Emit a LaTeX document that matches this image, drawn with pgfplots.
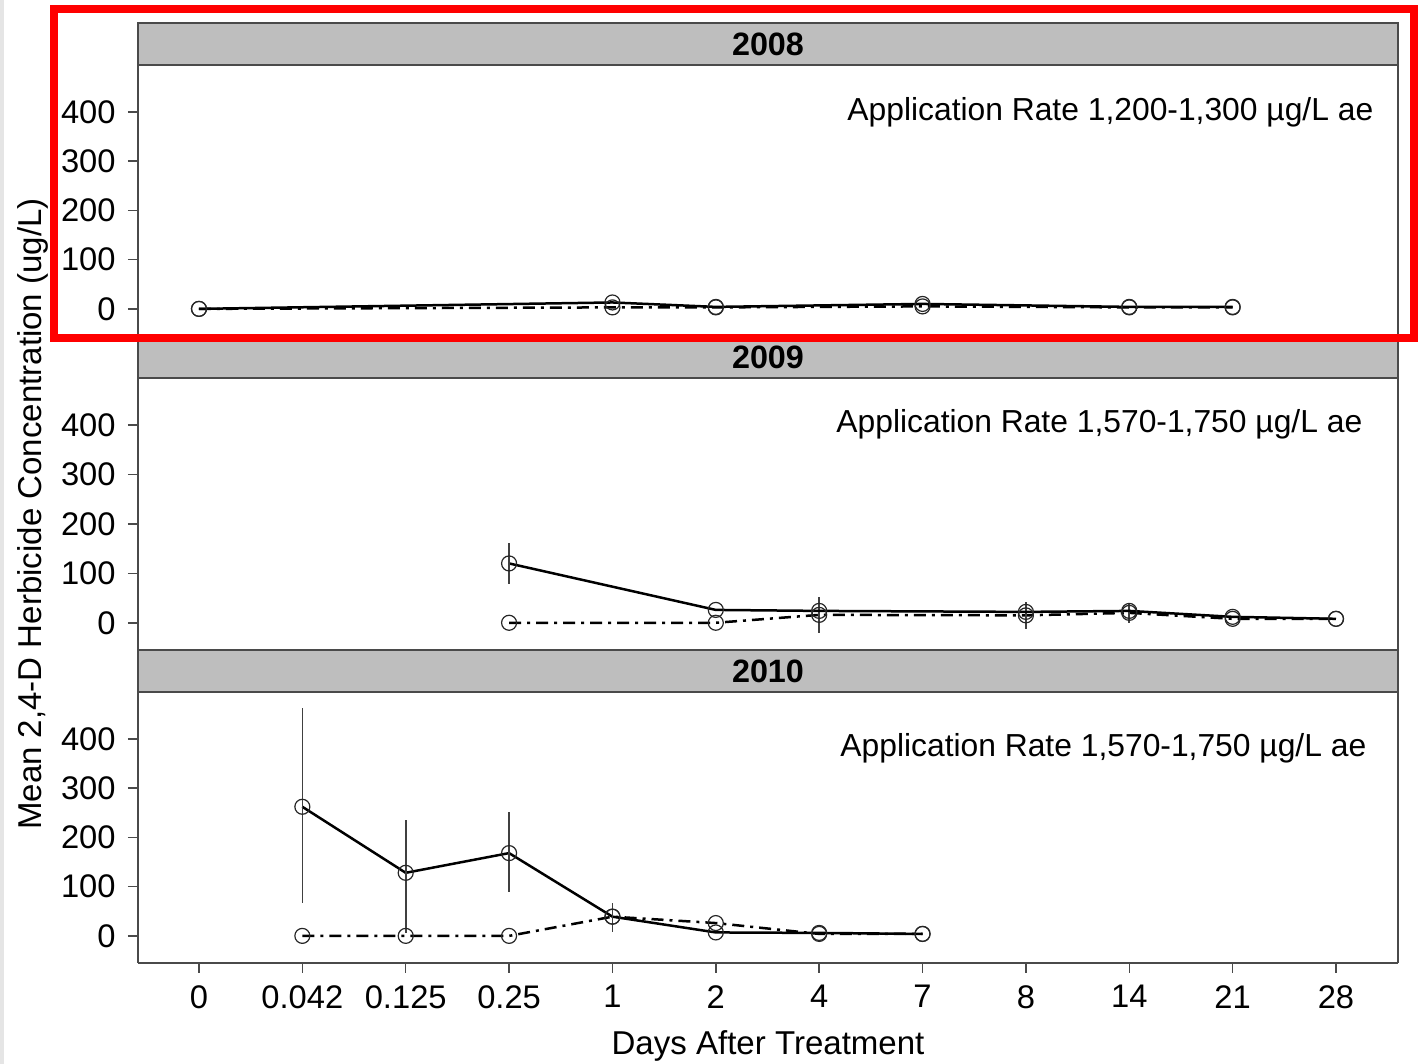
\documentclass[border=0pt]{standalone}
\usepackage{pgfplots}
\pgfplotsset{compat=1.18}
\usepackage{pgfplotstable}
\usepackage{fontspec}
\setmainfont{Liberation Sans}

\definecolor{stripgray}{HTML}{BEBEBE}
\definecolor{framegray}{HTML}{4A4A4A}

% Days after treatment are plotted at category positions 0..11
% 0:0  1:0.042  2:0.125  3:0.25  4:1  5:2  6:4  7:7  8:8  9:14  10:21  11:28

% ---- 2008 ----
\pgfplotstableread{
x y
0 0
4 13
5 4
7 10
9 4
10 4
}\solidA
\pgfplotstableread{
x y
0 0
4 3
5 3
7 5
9 3
10 3
}\dashA

% ---- 2009 ----
\pgfplotstableread{
x y ep em
3 120 42 42
5 26 0 0
6 24 0 0
8 22 0 0
9 24 0 0
10 12 0 0
11 8 0 0
}\solidB
\pgfplotstableread{
x y ep em
3 0 0 0
5 0 0 0
6 16 36 36
8 15 28 28
9 20 20 20
10 8 0 0
11 8 0 0
}\dashB

% ---- 2010 ----
\pgfplotstableread{
x y ep em
1 262 201 195
2 128 107 122
3 168 84 79
4 39 28 31
5 7 0 0
6 6 0 0
7 4 0 0
}\solidC
\pgfplotstableread{
x y
1 0
2 0
3 0
4 39
5 26
6 4
7 4
}\dashC

\pgfplotsset{
  panel/.style={
    scale only axis,
    width=126mm,
    xmin=-0.59, xmax=11.6,
    ymin=-55, ymax=495,
    ytick={0,100,200,300,400},
    tick align=outside,
    major tick length=1mm,
    axis line style={framegray, line width=0.2mm},
    tick style={framegray, line width=0.15mm},
    ticklabel style={font=\fontsize{9.3}{11}\selectfont},
    /pgf/number format/assume math mode=true,
    axis x line*=bottom, axis y line*=left,
    clip=false,
  },
  solidser/.style={black, line width=0.25mm, mark=o, mark size=0.75mm,
    mark options={solid, line width=0.12mm, black!85}},
  dashser/.style={black, line width=0.25mm,
    dash pattern=on 1.2mm off 0.6mm on 0.3mm off 0.6mm,
    mark=o, mark size=0.75mm, mark options={solid, line width=0.12mm, black!85}},
  ebars/.style={error bars/.cd, y dir=both, y explicit, error mark=none,
    error bar style={black!75, line width=0.16mm, solid}},
}

\begin{document}
\begin{tikzpicture}[x=1mm,y=1mm]
\useasboundingbox (0,0) rectangle (141.8,106.4);
\fill[black!10] (0,0) rectangle (0.4,106.4);

% 2008 panel
\begin{axis}[panel, at={(13.8mm,72.8mm)}, height=27.1mm, xtick=\empty]
  \addplot[dashser] table[x=x,y=y] {\dashA};
  \addplot[solidser] table[x=x,y=y] {\solidA};
  \draw[framegray, line width=0.2mm] (rel axis cs:1,0) -- (rel axis cs:1,1);
\end{axis}

% 2009 panel
\begin{axis}[panel, at={(13.8mm,41.4mm)}, height=27.2mm, xtick=\empty]
  \addplot[dashser, ebars] table[x=x,y=y,y error plus=ep,y error minus=em] {\dashB};
  \addplot[solidser, ebars] table[x=x,y=y,y error plus=ep,y error minus=em] {\solidB};
  \draw[framegray, line width=0.2mm] (rel axis cs:1,0) -- (rel axis cs:1,1);
\end{axis}

% 2010 panel
\begin{axis}[panel, at={(13.8mm,10.1mm)}, height=27.1mm,
    xtick={0,1,2,3,4,5,6,7,8,9,10,11},
    xticklabels={0,0.042,0.125,0.25,1,2,4,7,8,14,21,28}]
  \addplot[dashser] table[x=x,y=y] {\dashC};
  \addplot[solidser, ebars] table[x=x,y=y,y error plus=ep,y error minus=em] {\solidC};
  \draw[framegray, line width=0.2mm] (rel axis cs:1,0) -- (rel axis cs:1,1);
\end{axis}

% strip headers
\foreach \yb/\lab in {99.9/2008, 68.6/2009, 37.2/2010}{
  \draw[fill=stripgray, draw=framegray, line width=0.2mm] (13.8,\yb) rectangle (139.8,\yb+4.2);
  \node[font=\bfseries\fontsize{9.2}{10}\selectfont, inner sep=0] at (76.8,\yb+2.1) {\lab};
}

% application rates
\node[anchor=base east, inner sep=0, font=\fontsize{9.05}{11}\selectfont] at (137.4,94.3) {Application Rate 1,200-1,300 µg/L ae};
\node[anchor=base east, inner sep=0, font=\fontsize{9.05}{11}\selectfont] at (136.3,63.1) {Application Rate 1,570-1,750 µg/L ae};
\node[anchor=base east, inner sep=0, font=\fontsize{9.05}{11}\selectfont] at (136.7,30.7) {Application Rate 1,570-1,750 µg/L ae};

% axis titles
\node[anchor=base, inner sep=0, font=\fontsize{9.4}{11}\selectfont] at (76.8,0.9) {Days After Treatment};
\node[anchor=base, rotate=90, inner sep=0, font=\fontsize{9.4}{11}\selectfont] at (4.15,55.0) {Mean 2,4-D Herbicide Concentration (ug/L)};

% highlight box around the 2008 panel
\draw[red, line width=0.8mm] (5.35,72.6) rectangle (141.4,105.5);
\end{tikzpicture}
\end{document}
